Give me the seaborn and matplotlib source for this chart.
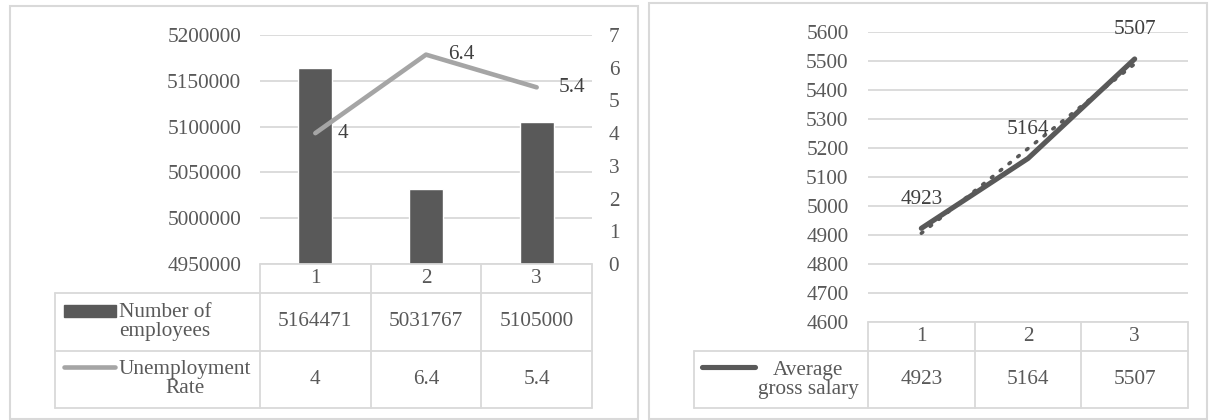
import numpy as np
import pandas as pd
import matplotlib
matplotlib.use('Agg')
import matplotlib.pyplot as plt
from matplotlib.lines import Line2D
from matplotlib.patches import Rectangle
from matplotlib.ticker import StrMethodFormatter
import seaborn as sns

# ---- data ----
periods = [1, 2, 3]
employees = [5164471, 5031767, 5105000]
unemployment = [4, 6.4, 5.4]
salary = [4923, 5164, 5507]

emp_label = "Number of\nemployees"
rate_label = "Unemployment\nRate"
salary_label = "Average\ngross salary"

# ---- style ----
sns.set_style("white")
plt.rcParams['font.family'] = ['Liberation Serif', 'DejaVu Serif']
DARK = '#595959'
LIGHT = '#A5A5A5'
GRID = '#D9D9D9'
TXT = '#595959'
LBL = '#404040'
FS = 15.3

W, H = 1209, 420
fig = plt.figure(figsize=(W / 100, H / 100), dpi=100)
fig.patch.set_facecolor('white')


def fx(x):
    return x / W


def fy(y):
    return 1 - y / H


def hline(x0, x1, y):
    fig.add_artist(Line2D([fx(x0), fx(x1)], [fy(y), fy(y)], color=GRID, lw=1.3,
                          transform=fig.transFigure))


def vline(x, y0, y1):
    fig.add_artist(Line2D([fx(x), fx(x)], [fy(y0), fy(y1)], color=GRID, lw=1.3,
                          transform=fig.transFigure))


def draw_table(label_left, plot_left, plot_right, header_top, row_edges, rows):
    colw = (plot_right - plot_left) / len(periods)
    bottom = row_edges[-1]
    hline(plot_left, plot_right, header_top)
    for y in row_edges[:-1]:
        hline(label_left, plot_right, y)
    hline(label_left, plot_right, bottom)
    vline(label_left, row_edges[0], bottom)
    for k in range(len(periods) + 1):
        vline(plot_left + k * colw, header_top, bottom)
    for k, p in enumerate(periods):
        cx = plot_left + (k + 0.5) * colw
        fig.text(fx(cx), fy((header_top + row_edges[0]) / 2), str(p), ha='center',
                 va='center', fontsize=FS, color=TXT)
        for r, vals in enumerate(rows):
            cy = (row_edges[r] + row_edges[r + 1]) / 2
            fig.text(fx(cx), fy(cy), str(vals[k]), ha='center', va='center',
                     fontsize=FS, color=TXT)


def style_axis(ax):
    sns.despine(ax=ax, left=True, bottom=True, right=True, top=True)
    ax.tick_params(length=0, labelsize=FS, labelcolor=TXT)
    ax.set_xlabel('')
    ax.set_ylabel('')
    ax.set_xticks([])
    ax.set_facecolor('none')


# ---- left chart ----
fig.add_artist(Rectangle((fx(10), fy(419)), fx(638) - fx(10), fy(6) - fy(419),
                         fill=False, edgecolor=GRID, lw=1.5, transform=fig.transFigure))
ax = fig.add_axes([fx(260), fy(264), (592 - 260) / W, (264 - 35) / H])
df = pd.DataFrame({'period': [0, 1, 2], 'employees': employees, 'rate': unemployment})
sns.barplot(data=df, x='period', y='employees', color=DARK, width=0.31,
            saturation=1, ax=ax, zorder=3)
ax.set_xlim(-0.5, 2.5)
ax.set_ylim(4950000, 5200000)
ax.set_yticks(np.arange(4950000, 5200001, 50000))
ax.yaxis.set_major_formatter(StrMethodFormatter('{x:.0f}'))
ax.yaxis.grid(True, color=GRID, lw=1.3, zorder=0)
ax.set_axisbelow(True)
style_axis(ax)
ax.tick_params(axis='y', pad=13.5)

ax2 = ax.twinx()
sns.lineplot(data=df, x='period', y='rate', color=LIGHT, lw=3.3, ax=ax2,
             solid_capstyle='round', solid_joinstyle='round', zorder=4)
ax2.set_ylim(0, 7)
ax2.set_yticks(range(0, 8))
ax2.set_xlim(-0.5, 2.5)
style_axis(ax2)
ax2.tick_params(axis='y', pad=12)
for i, v in enumerate(unemployment):
    ax2.annotate(f"{v:g}", (i, v), xytext=(22, 0), textcoords='offset pixels',
                 ha='left', va='center', fontsize=FS, color=LBL)

draw_table(55, 260, 592, 264, [293, 351, 408], [employees, unemployment])
# legend keys
fig.add_artist(Rectangle((fx(64), fy(317)), fx(116) - fx(64), fy(305) - fy(317),
                         color=DARK, transform=fig.transFigure))
fig.add_artist(Line2D([fx(64), fx(115)], [fy(367), fy(367)], color=LIGHT, lw=3.3,
                      solid_capstyle='round', transform=fig.transFigure))
fig.text(fx(119), fy(322), emp_label, ha='left', va='center', fontsize=FS,
         color=TXT, linespacing=1.0, multialignment='left')
fig.text(fx(119), fy(379), rate_label, ha='left', va='center', fontsize=FS,
         color=TXT, linespacing=1.0, multialignment='center')

# ---- right chart ----
fig.add_artist(Rectangle((fx(649), fy(419)), fx(1207) - fx(649), fy(3) - fy(419),
                         fill=False, edgecolor=GRID, lw=1.5, transform=fig.transFigure))
bx = fig.add_axes([fx(868), fy(322), (1188 - 868) / W, (322 - 32) / H])
sdf = pd.DataFrame({'period': [0, 1, 2], 'salary': salary})
sns.regplot(data=sdf, x='period', y='salary', scatter=False, ci=None, ax=bx,
            line_kws=dict(color=DARK, lw=2.6, linestyle=(0, (0.5, 2.6)),
                          dash_capstyle='round', zorder=3))
sns.lineplot(data=sdf, x='period', y='salary', color=DARK, lw=3.7, ax=bx,
             solid_capstyle='round', solid_joinstyle='round', zorder=4)
bx.set_xlim(-0.5, 2.5)
bx.set_ylim(4600, 5600)
bx.set_yticks(np.arange(4600, 5601, 100))
bx.yaxis.grid(True, color=GRID, lw=1.3, zorder=0)
bx.set_axisbelow(True)
style_axis(bx)
bx.tick_params(axis='y', pad=14)
for i, v in enumerate(salary):
    bx.annotate(f"{v:g}", (i, v), xytext=(0, 29), textcoords='offset pixels',
                ha='center', va='center', fontsize=FS, color=LBL)

draw_table(694, 868, 1188, 322, [351, 408], [salary])
fig.add_artist(Line2D([fx(702), fx(755)], [fy(367), fy(367)], color=DARK, lw=3.7,
                      solid_capstyle='round', transform=fig.transFigure))
fig.text(fx(808), fy(380), salary_label, ha='center', va='center', fontsize=FS,
         color=TXT, linespacing=1.0, multialignment='center')

fig.savefig('out.png', dpi=100, facecolor='white')
